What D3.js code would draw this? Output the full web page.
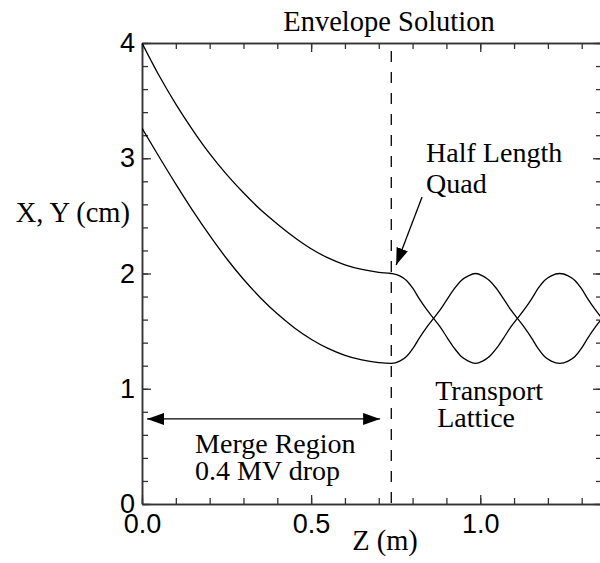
<!DOCTYPE html>
<html>
<head>
<meta charset="utf-8">
<script src="https://cdn.jsdelivr.net/npm/d3@7"></script>
<style>
  body { margin: 0; background: #fff; }
  svg { display: block; }
</style>
</head>
<body>
<div id="chart"></div>
<script>
// envelope solution data
const zMerge = [0, 0.05, 0.10, 0.15, 0.20, 0.25, 0.30, 0.35, 0.40, 0.45, 0.50, 0.55, 0.60, 0.65, 0.70];
const envUpperMerge = [4.00, 3.72, 3.47, 3.245, 3.04, 2.86, 2.70, 2.555, 2.43, 2.315, 2.215, 2.135, 2.075, 2.035, 2.01];
const envLowerMerge = [3.26, 3.015, 2.775, 2.545, 2.33, 2.13, 1.95, 1.79, 1.65, 1.53, 1.43, 1.35, 1.29, 1.25, 1.227];

const zLattice = [0.737, 0.762, 0.782, 0.801, 0.820, 0.841, 0.862, 0.883, 0.903, 0.924, 0.944, 0.965, 0.986,
                  1.007, 1.027, 1.048, 1.069, 1.089, 1.110, 1.131, 1.152, 1.171, 1.190, 1.210, 1.235,
                  1.260, 1.280, 1.299, 1.318, 1.339, 1.360, 1.381];
const envUpperLattice = [2.00, 1.98, 1.94, 1.87, 1.78, 1.69, 1.61, 1.53, 1.44, 1.35, 1.28, 1.24, 1.22,
                         1.24, 1.28, 1.35, 1.44, 1.53, 1.61, 1.69, 1.78, 1.87, 1.94, 1.98, 2.00,
                         1.98, 1.94, 1.87, 1.78, 1.69, 1.61, 1.53];
const envLowerLattice = [1.22, 1.24, 1.28, 1.35, 1.44, 1.53, 1.61, 1.69, 1.78, 1.87, 1.94, 1.98, 2.00,
                         1.98, 1.94, 1.87, 1.78, 1.69, 1.61, 1.53, 1.44, 1.35, 1.28, 1.24, 1.22,
                         1.24, 1.28, 1.35, 1.44, 1.53, 1.61, 1.69];

const quadZ = 0.737;          // end of merge region
const xMajor = [0, 0.5, 1.0];
const xMinor = d3.range(0, 14).map(i => i / 10);
const yMajor = [0, 1, 2, 3, 4];
const yMinor = d3.range(0, 21).map(i => i / 5);

const width = 600, height = 563;
const plotLeft = 142, plotRight = 602, plotTop = 43, plotBottom = 504;

const svg = d3.select("#chart").append("svg")
    .attr("width", width)
    .attr("height", height);

const x = d3.scaleLinear().domain([0, 1.36]).range([plotLeft, plotRight]);
const y = d3.scaleLinear().domain([0, 4]).range([plotBottom, plotTop]);

const serif = "'Liberation Serif', 'Times New Roman', serif";
const sans = "'Liberation Sans', Arial, Helvetica, sans-serif";

// arrow head
const defs = svg.append("defs");
defs.append("marker")
    .attr("id", "head")
    .attr("viewBox", "0 0 17 12")
    .attr("refX", 17).attr("refY", 6)
    .attr("markerWidth", 17).attr("markerHeight", 12)
    .attr("markerUnits", "userSpaceOnUse")
    .attr("orient", "auto-start-reverse")
    .append("path")
    .attr("d", "M0,0 L17,6 L0,12 Z")
    .attr("fill", "#000");

defs.append("clipPath").attr("id", "plot")
    .append("rect")
    .attr("x", plotLeft).attr("y", plotTop)
    .attr("width", plotRight - plotLeft).attr("height", plotBottom - plotTop);

// axes (all four sides, ticks pointing in)
function styleAxis(g) {
    g.select(".domain").attr("stroke", "#333").attr("stroke-width", 1.5);
    g.selectAll(".tick line").attr("stroke", "#333").attr("stroke-width", 1.3);
    g.selectAll("text").attr("fill", "#000");
}

function addAxis(axisFn, scale, pos, transform, labels) {
    const major = axisFn(scale).tickValues(pos[0]).tickSizeInner(-9).tickSizeOuter(0);
    const minor = axisFn(scale).tickValues(pos[1]).tickSizeInner(-6).tickSizeOuter(0).tickFormat("");
    svg.append("g").attr("transform", transform).call(minor).call(styleAxis);
    const g = svg.append("g").attr("transform", transform);
    if (labels) {
        major.tickPadding(labels.pad).tickFormat(labels.fmt);
    } else {
        major.tickFormat("");
    }
    g.call(major).call(styleAxis);
    g.attr("font-family", sans).attr("font-size", 27);
    return g;
}

addAxis(d3.axisBottom, x, [xMajor, xMinor], `translate(0,${plotBottom})`, { pad: 10, fmt: d3.format(".1f") });
addAxis(d3.axisTop, x, [xMajor, xMinor], `translate(0,${plotTop})`, null);
addAxis(d3.axisLeft, y, [yMajor, yMinor], `translate(${plotLeft},0)`, { pad: 7, fmt: d3.format("d") });
addAxis(d3.axisRight, y, [yMajor, yMinor], `translate(${plotRight},0)`, null);

// dashed line at end of merge region
svg.append("line")
    .attr("x1", x(quadZ)).attr("x2", x(quadZ))
    .attr("y1", y(4)).attr("y2", y(0))
    .attr("stroke", "#000")
    .attr("stroke-width", 1.3)
    .attr("stroke-dasharray", "11,10")
    .attr("stroke-dashoffset", -8);

// envelope curves
const upper = zMerge.map((z, i) => [z, envUpperMerge[i]])
    .concat(zLattice.map((z, i) => [z, envUpperLattice[i]]));
const lower = zMerge.map((z, i) => [z, envLowerMerge[i]])
    .concat(zLattice.map((z, i) => [z, envLowerLattice[i]]));

const line = d3.line()
    .x(d => x(d[0]))
    .y(d => y(d[1]))
    .curve(d3.curveMonotoneX);

svg.append("g").attr("clip-path", "url(#plot)")
    .selectAll("path")
    .data([upper, lower])
    .enter()
    .append("path")
    .attr("d", line)
    .attr("fill", "none")
    .attr("stroke", "#000")
    .attr("stroke-width", 1.3);

// annotations
svg.append("line")
    .attr("x1", x(0.015)).attr("y1", y(0.738))
    .attr("x2", x(0.704)).attr("y2", y(0.738))
    .attr("stroke", "#000").attr("stroke-width", 1.3)
    .attr("marker-start", "url(#head)")
    .attr("marker-end", "url(#head)");

svg.append("line")
    .attr("x1", x(0.828)).attr("y1", y(2.664))
    .attr("x2", x(0.7515)).attr("y2", y(2.074))
    .attr("stroke", "#000").attr("stroke-width", 1.3)
    .attr("marker-end", "url(#head)");

const notes = [
    { text: "Half Length", z: 0.840, v: 2.967 },
    { text: "Quad", z: 0.840, v: 2.700 },
    { text: "Transport", z: 0.867, v: 0.902 },
    { text: "Lattice", z: 0.873, v: 0.668 },
    { text: "Merge Region", z: 0.157, v: 0.4425 },
    { text: "0.4 MV drop", z: 0.157, v: 0.208 }
];

svg.append("g")
    .selectAll("text")
    .data(notes)
    .enter()
    .append("text")
    .attr("x", d => x(d.z))
    .attr("y", d => y(d.v))
    .attr("font-family", serif)
    .attr("font-size", 28)
    .text(d => d.text);

// titles
svg.append("text")
    .attr("x", 389).attr("y", 31)
    .attr("text-anchor", "middle")
    .attr("font-family", serif).attr("font-size", 28.5)
    .text("Envelope Solution");

svg.append("text")
    .attr("x", 130).attr("y", 222)
    .attr("text-anchor", "end")
    .attr("font-family", serif).attr("font-size", 28.5)
    .text("X, Y (cm)");

svg.append("text")
    .attr("x", 385).attr("y", 550)
    .attr("text-anchor", "middle")
    .attr("font-family", serif).attr("font-size", 28.5)
    .text("Z (m)");
</script>
</body>
</html>
